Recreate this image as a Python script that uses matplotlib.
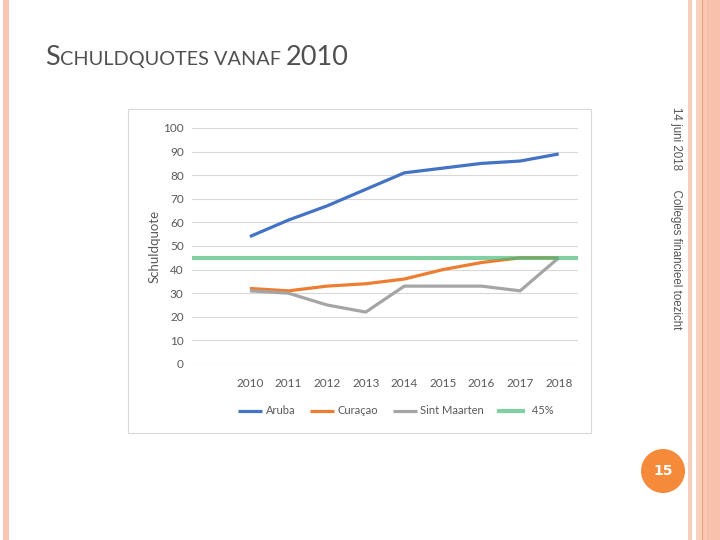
import matplotlib
matplotlib.use("Agg")
import matplotlib.pyplot as plt
from matplotlib.patches import Rectangle, Circle
from matplotlib.lines import Line2D

years = ["2010", "2011", "2012", "2013", "2014", "2015", "2016", "2017", "2018"]
aruba = [54, 61, 67, 74, 81, 83, 85, 86, 89]
curacao = [32, 31, 33, 34, 36, 40, 43, 45, 45]
sint_maarten = [31, 30, 25, 22, 33, 33, 33, 31, 45]
threshold = 45
series_names = ["Aruba", "Curaçao", "Sint Maarten", "  45%"]
yticks = [0, 10, 20, 30, 40, 50, 60, 70, 80, 90, 100]

W, H = 720, 540
fig = plt.figure(figsize=(7.2, 5.4), dpi=100)
fig.patch.set_facecolor("white")

def px(x, y, w, h):
    return (x / W, 1 - (y + h) / H, w / W, h / H)

# slide decoration (pink stripes)
deco = fig.add_axes([0, 0, 1, 1], zorder=-5)
deco.set_xlim(0, W); deco.set_ylim(H, 0); deco.axis("off")
deco.add_patch(Rectangle((3, 0), 6, H, color="#F8C6B2", lw=0))
deco.add_patch(Rectangle((688, 0), 4, H, color="#F9CDBB", lw=0))
deco.add_patch(Rectangle((696, 0), 6, H, color="#FAD0BE", lw=0))
deco.add_patch(Rectangle((702, 0), 1.2, H, color="#EE9A70", lw=0))
deco.add_patch(Rectangle((703.2, 0), 4, H, color="#FAC9B4", lw=0))
deco.add_patch(Rectangle((707, 0), 13, H, color="#F8C1AB", lw=0))
# chart border
deco.add_patch(Rectangle((127.5, 108.5), 463.5, 324.5, fill=False, ec="#D9D9D9", lw=0.8))
# page number circle
deco.add_patch(Circle((663, 471), 22, color="#F58A3B", lw=0))
deco.text(663, 471, "15", color="white", fontsize=10, fontweight="bold",
          ha="center", va="center", family="DejaVu Sans")
# vertical side text
deco.text(676, 107, "14 juni 2018      Colleges financieel toezicht", rotation=-90,
          ha="center", va="top", fontsize=8.3, color="#555555", family="Liberation Sans")

# title in small caps
fig.canvas.draw()
r = fig.canvas.get_renderer()
title_parts = [("S", 19.5), ("CHULDQUOTES VANAF ", 14.3), ("2010", 19.5)]
x = 45
for txt, fs in title_parts:
    t = deco.text(x, 65, txt, fontsize=fs, color="#505050", family="Lato",
                  ha="left", va="baseline")
    bb = t.get_window_extent(renderer=r)
    x += bb.width

# main chart
ax = fig.add_axes(px(192, 128, 386, 236))
xs = list(range(1, len(years) + 1))
ax.set_xlim(-0.5, len(years) + 0.5)
ax.set_ylim(0, 100)
ax.set_yticks(yticks)
ax.set_xticks(xs)
ax.set_xticklabels(years)
ax.grid(axis="y", color="#D9D9D9", lw=0.8)
ax.set_axisbelow(True)
for s in ax.spines.values():
    s.set_visible(False)
ax.tick_params(length=0, labelsize=8.5, labelcolor="#595959")
ax.tick_params(axis="y", pad=6)
ax.tick_params(axis="x", pad=10)
for lab in ax.get_xticklabels() + ax.get_yticklabels():
    lab.set_family("Lato")

l1, = ax.plot(xs, aruba, color="#4472C4", lw=2.3, solid_capstyle="butt")
l2, = ax.plot(xs, curacao, color="#ED7D31", lw=2.3, solid_capstyle="butt")
l3, = ax.plot(xs, sint_maarten, color="#A5A5A5", lw=2.3, solid_capstyle="butt")
l4 = ax.axhline(threshold, color="#4ABC7D", alpha=0.7, lw=3)

ax.set_ylabel("Schuldquote", fontsize=9.5, color="#595959", family="Lato", labelpad=2)

leg = fig.legend([l1, l2, l3, Line2D([], [], color="#80D0A4", lw=3)], series_names,
                 loc="center", bbox_to_anchor=(396 / W, 1 - 411 / H), ncol=4,
                 frameon=False, handlelength=2.2, handletextpad=0.3,
                 columnspacing=1.3, prop={"family": "Lato", "size": 8})
for t in leg.get_texts():
    t.set_color("#595959")

fig.savefig("out.png", dpi=100, facecolor="white")
